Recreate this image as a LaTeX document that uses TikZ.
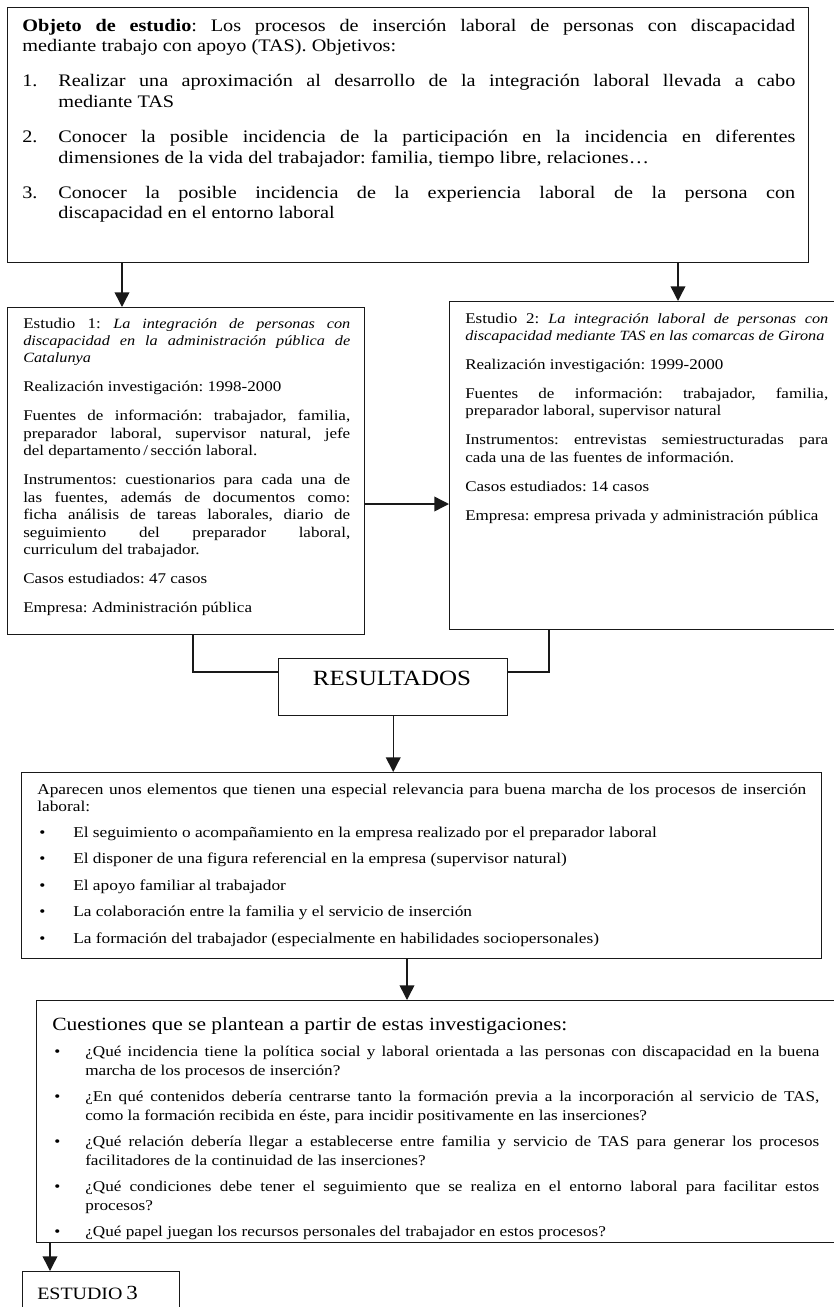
\documentclass[tikz,border=0pt]{standalone}
\usepackage{fontspec}
\setmainfont{Liberation Serif}[FakeStretch=1.15]
\usetikzlibrary{arrows.meta,calc}
\newcommand{\itm}[2]{\par\noindent\hangindent=#1\hangafter=1\makebox[#1][l]{#2}}
\newcommand{\bitm}[1]{\par\noindent\hangindent=#1\hangafter=1\makebox[#1][l]{\hspace{1.5pt}•}}
\newcommand{\ttl}[1]{{\fontsize{10.6pt}{13.1pt}\selectfont\itshape #1}}
\begin{document}
\frenchspacing
\begin{tikzpicture}[x=0.75pt,y=-0.75pt,
  box/.style={draw=black!90, line width=1.1pt, rectangle, inner sep=0pt, anchor=north west},
  arr/.style={draw=black!90, line width=1.1pt, -{Triangle[width=11pt,length=11pt]}},
  lin/.style={draw=black!90, line width=1.1pt},
  txt/.style={inner sep=0pt, anchor=base west, align=justify},
]
\useasboundingbox (0,0) rectangle (834,1307);

% boxes
\node[box, minimum width=600.75pt, minimum height=191.25pt] (top) at (7,7) {};
\node[box, minimum width=267.75pt, minimum height=245.25pt] (s1) at (7,307) {};
\node[box, minimum width=296.25pt, minimum height=246pt] (s2) at (449,301) {};
\node[box, minimum width=171.75pt, minimum height=42.75pt] (res) at (278,658) {};
\node[box, minimum width=600pt, minimum height=139.5pt] (b3) at (21,772) {};
\node[box, minimum width=607.5pt, minimum height=181.5pt] (b4) at (36,1000) {};
\node[box, minimum width=117.75pt, minimum height=37.5pt] (e3) at (22,1271) {};

% texts
\node[txt, text width=579.75pt, font=\fontsize{13.2pt}{15.4pt}\selectfont] (toptxt) at (22,31) {%
\setlength\parskip{11pt}%
\textbf{Objeto de estudio}: Los procesos de inserción laboral de personas con discapacidad\linebreak
mediante trabajo con apoyo (TAS). Objetivos:
\itm{27pt}{1.}Realizar una aproximación al desarrollo de la integración laboral llevada a cabo\linebreak mediante TAS
\itm{27pt}{2.}Conocer la posible incidencia de la participación en la incidencia en diferentes\linebreak dimensiones de la vida del trabajador: familia, tiempo libre, relaciones…
\itm{27pt}{3.}Conocer la posible incidencia de la experiencia laboral de la persona con\linebreak discapacidad en el entorno laboral\par};

\node[txt, text width=245.25pt, font=\fontsize{11.1pt}{13.1pt}\selectfont] (s1txt) at (23,328) {%
\setlength\parskip{8.6pt}%
Estudio 1: \ttl{La integración de personas con\linebreak discapacidad en la administración pública de\linebreak Catalunya}\par
Realización investigación: 1998-2000\par
Fuentes de información: trabajador, familia,\linebreak preparador laboral, supervisor natural, jefe\linebreak del departamento\,/\,sección laboral.\par
Instrumentos: cuestionarios para cada una de\linebreak las fuentes, además de documentos como:\linebreak ficha análisis de tareas laborales, diario de\linebreak seguimiento del preparador laboral,\linebreak curriculum del trabajador.\par
Casos estudiados: 47 casos\par
Empresa: Administración pública\par};

\node[txt, text width=272.25pt, font=\fontsize{11.1pt}{13.1pt}\selectfont] (s2txt) at (465,323) {%
\setlength\parskip{8.6pt}%
Estudio 2: \ttl{La integración laboral de personas con\linebreak discapacidad mediante TAS en las comarcas de Girona}\par
Realización investigación: 1999-2000\par
Fuentes de información: trabajador, familia,\linebreak preparador laboral, supervisor natural\par
Instrumentos: entrevistas semiestructuradas para\linebreak cada una de las fuentes de información.\par
Casos estudiados: 14 casos\par
Empresa: empresa privada y administración pública\par};

\node[inner sep=0pt, anchor=base, font=\fontsize{16.3pt}{18pt}\selectfont] (restxt) at (392,685) {RESULTADOS};

\node[txt, text width=576.75pt, font=\fontsize{11.3pt}{12.75pt}\selectfont] (b3txt) at (37,794) {%
\setlength\parskip{7.1pt}%
Aparecen unos elementos que tienen una especial relevancia para buena marcha de los procesos de inserción\linebreak laboral:
\bitm{27pt}El seguimiento o acompañamiento en la empresa realizado por el preparador laboral
\bitm{27pt}El disponer de una figura referencial en la empresa (supervisor natural)
\bitm{27pt}El apoyo familiar al trabajador
\bitm{27pt}La colaboración entre la familia y el servicio de inserción
\bitm{27pt}La formación del trabajador (especialmente en habilidades sociopersonales)\par};

\node[txt, text width=575.25pt, font=\fontsize{11.2pt}{13.9pt}\selectfont] (b4txt) at (52,1030) {%
\setlength\parskip{6pt}%
{\fontsize{14pt}{16pt}\selectfont Cuestiones que se plantean a partir de estas investigaciones:}
\bitm{24.75pt}¿Qué incidencia tiene la política social y laboral orientada a las personas con discapacidad en la buena\linebreak marcha de los procesos de inserción?
\bitm{24.75pt}¿En qué contenidos debería centrarse tanto la formación previa a la incorporación al servicio de TAS,\linebreak como la formación recibida en éste, para incidir positivamente en las inserciones?
\bitm{24.75pt}¿Qué relación debería llegar a establecerse entre familia y servicio de TAS para generar los procesos\linebreak facilitadores de la continuidad de las inserciones?
\bitm{24.75pt}¿Qué condiciones debe tener el seguimiento que se realiza en el entorno laboral para facilitar estos\linebreak procesos?
\bitm{24.75pt}¿Qué papel juegan los recursos personales del trabajador en estos procesos?\par};

\node[inner sep=0pt, anchor=base west] (e3txt) at (37,1299) {{\fontsize{13pt}{15pt}\selectfont ESTUDIO} {\fontsize{15pt}{15pt}\selectfont 3}};

% connectors
\coordinate (xa) at (122,0);
\coordinate (xb) at (678,0);
\coordinate (ya) at (0,504);
\coordinate (xc) at (193,0);
\coordinate (xd) at (549,0);
\coordinate (yb) at (0,672);
\coordinate (xe) at (407,0);
\coordinate (xf) at (50,0);

\draw[arr] (xa |- top.south) -- (xa |- s1.north);
\draw[arr] (xb |- top.south) -- (xb |- s2.north);
\draw[arr] (s1.east |- ya) -- (s2.west |- ya);
\draw[lin] (xc |- s1.south) |- (res.west |- yb);
\draw[lin] (xd |- s2.south) |- (res.east |- yb);
\draw[arr] (res.south) -- (res.south |- b3.north);
\draw[arr] (xe |- b3.south) -- (xe |- b4.north);
\draw[arr] (xf |- b4.south) -- (xf |- e3.north);
\end{tikzpicture}
\end{document}
